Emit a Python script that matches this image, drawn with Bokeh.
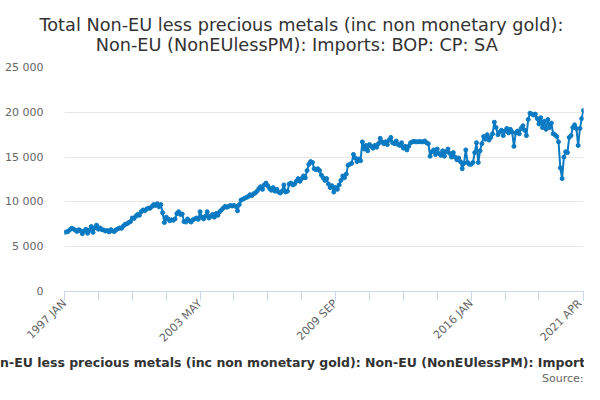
import math
from bokeh.plotting import figure
from bokeh.models import Range1d, FixedTicker, Title
from bokeh.embed import file_html
from bokeh.resources import INLINE

# Monthly values, 1997 JAN .. 2021 APR
y1997 = [6620, 6640, 6700, 6900, 7050, 6980, 6850, 6700, 6900, 6780, 6450, 6750]
y1998 = [6950, 6500, 6850, 7250, 6600, 7100, 7400, 6950, 7100, 6900, 6850, 6750]
y1999 = [6800, 6650, 6900, 6750, 6700, 6900, 7000, 7100, 7050, 7300, 7500, 7550]
y2000 = [7700, 7800, 8200, 8150, 8400, 8600, 8500, 8900, 9100, 9000, 9200, 9300]
y2001 = [9300, 9500, 9700, 9600, 9800, 9450, 9700, 8800, 7700, 8300, 8100, 7900]
y2002 = [8000, 7950, 8100, 8700, 8900, 8600, 8650, 7800, 7750, 8100, 7900, 7750]
y2003 = [8000, 8100, 8200, 8050, 8900, 8300, 8100, 8400, 8900, 8200, 8400, 8600]
y2004 = [8300, 8700, 8500, 8900, 9100, 9300, 9500, 9400, 9500, 9600, 9550, 9600]
y2005 = [9500, 9000, 9700, 10200, 10300, 10400, 10500, 10600, 10800, 10700, 10900, 11000]
y2006 = [11200, 11500, 11700, 11400, 11900, 12100, 11800, 11500, 11300, 11600, 11200, 11400]
y2007 = [11100, 11000, 11200, 11900, 11100, 11200, 12000, 12100, 11900, 12000, 12300, 12600]
y2008 = [12300, 12600, 12900, 12700, 13500, 14200, 14500, 14400, 13700, 13600, 13700, 13500]
y2009 = [13000, 12700, 12400, 12600, 12000, 11600, 11800, 11100, 11600, 11400, 11900, 12400]
y2010 = [12900, 12700, 13100, 14100, 14200, 14300, 15300, 14900, 14500, 14800, 14600, 16700]
y2011 = [15900, 16300, 15700, 16400, 16200, 16000, 16300, 16100, 16500, 17100, 16700, 16500]
y2012 = [16700, 16400, 16900, 17200, 16600, 16500, 16800, 16400, 16300, 16600, 16000, 16200]
y2013 = [15800, 16200, 16600, 16700, 16750, 16700, 16700, 16750, 16700, 16700, 16800, 16600]
y2014 = [16500, 15100, 15600, 15800, 15300, 15900, 15400, 15200, 15700, 15100, 15600, 15900]
y2015 = [15400, 15000, 15500, 15000, 14700, 14900, 14500, 13700, 14300, 15800, 14400, 14200]
y2016 = [14200, 14400, 15500, 16600, 14400, 15700, 16500, 17300, 17000, 17500, 16900, 17200]
y2017 = [17600, 18900, 18300, 17500, 17800, 18000, 17400, 17900, 18200, 17700, 18100, 17800]
y2018 = [16200, 17700, 17900, 17600, 18200, 18500, 18000, 17400, 19200, 19900, 19800, 19700]
y2019 = [19800, 19300, 18700, 19400, 18300, 19000, 18100, 19200, 18300, 18800, 17600, 17500]
y2020 = [17300, 16700, 13800, 12600, 15000, 15600, 15500, 17200, 17400, 18300, 18600, 18200]
y2021 = [16300, 18200, 19300, 20200]

values = (y1997 + y1998 + y1999 + y2000 + y2001 + y2002 + y2003 + y2004 + y2005
          + y2006 + y2007 + y2008 + y2009 + y2010 + y2011 + y2012 + y2013 + y2014
          + y2015 + y2016 + y2017 + y2018 + y2019 + y2020 + y2021)
months = list(range(len(values)))

# x tick positions (month index) and their labels
x_ticks = [0, 19, 38, 57, 76, 95, 114, 133, 152, 171, 190, 209, 228, 247, 266, 291]
x_labels = {0: "1997 JAN", 76: "2003 MAY", 152: "2009 SEP", 228: "2016 JAN", 291: "2021 APR"}
y_ticks = [0, 5000, 10000, 15000, 20000, 25000]

title1 = "Total Non-EU less precious metals (inc non monetary gold):"
title2 = "Non-EU (NonEUlessPM): Imports: BOP: CP: SA"
caption = "Total Non-EU less precious metals (inc non monetary gold): Non-EU (NonEUlessPM): Imports: BOP: CP: SA"

FONT = "DejaVu Sans"
BLUE = "#0a7ac2"

p = figure(width=584, height=384, output_backend="svg", toolbar_location=None,
           x_range=Range1d(0, len(values) - 1), y_range=Range1d(0, 25000),
           min_border_left=64, min_border_right=1, min_border_top=67, min_border_bottom=91)
p.outline_line_color = None
p.background_fill_color = "white"
p.border_fill_color = "white"

p.line(months, values, color=BLUE, line_width=2)
p.scatter(months, values, size=4, color=BLUE)

# x axis
p.xaxis.ticker = FixedTicker(ticks=x_ticks)
p.xaxis.major_label_overrides = {t: x_labels.get(t, "") for t in x_ticks}
p.xaxis.major_label_orientation = math.pi / 4
p.xaxis.axis_line_color = "#ccd6eb"
p.xaxis.major_tick_line_color = "#ccd6eb"
p.xaxis.major_tick_out = 9
p.xaxis.major_tick_in = 0
p.xaxis.minor_tick_line_color = None
p.xaxis.major_label_text_font = FONT
p.xaxis.major_label_text_font_size = "11px"
p.xaxis.major_label_text_color = "#666666"
p.xaxis.major_label_standoff = 1
p.xgrid.grid_line_color = None

# y axis
p.yaxis.ticker = FixedTicker(ticks=y_ticks)
p.yaxis.major_label_overrides = {t: f"{t:,}".replace(",", " ") for t in y_ticks}
p.yaxis.axis_line_color = None
p.yaxis.major_tick_line_color = None
p.yaxis.minor_tick_line_color = None
p.yaxis.major_label_standoff = 15
p.yaxis.major_label_text_font = FONT
p.yaxis.major_label_text_font_size = "11px"
p.yaxis.major_label_text_color = "#666666"
p.ygrid.grid_line_color = "#e6e6e6"

# two-line title; the second line is indented with no-break spaces to sit centred
p.title.text = title1 + "\n" + "\u00a0" * 10 + title2
p.title.align = "left"
p.title.vertical_align = "top"
p.title.offset = -25
p.title.text_font = FONT
p.title.text_font_size = "17.7px"
p.title.text_font_style = "normal"
p.title.text_color = "#333333"
p.title.standoff = 22

# footer below the x axis
p.add_layout(Title(text=caption, align="left", offset=-122, text_font=FONT,
                   text_font_size="12.5px", text_font_style="bold",
                   text_color="#333333", text_line_height=0.9, standoff=0), "below")
p.add_layout(Title(text="Source:", align="right", offset=0, text_font=FONT,
                   text_font_size="11px", text_font_style="normal",
                   text_color="#666666", text_line_height=0.9, standoff=0), "below")

open("out.html", "w").write(file_html(p, INLINE))
